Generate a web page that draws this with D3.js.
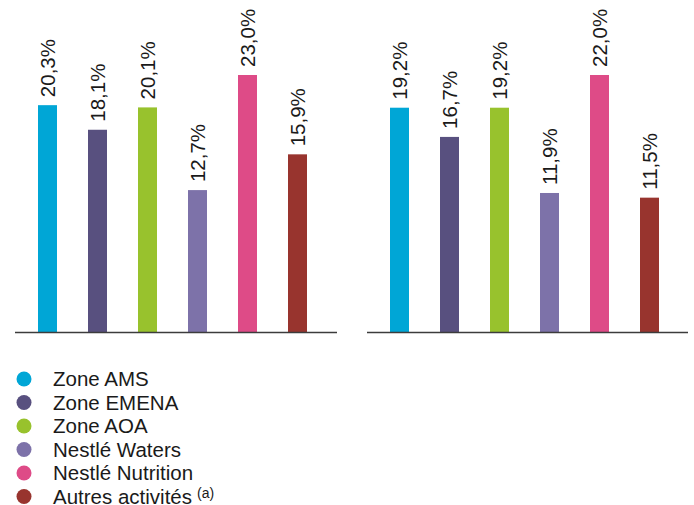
<!DOCTYPE html>
<html>
<head>
  <meta charset="UTF-8">
  <script src="https://d3js.org/d3.v7.min.js"></script>
  <style>
    body { margin: 0; background: #fff; }
    svg { font-family: "Liberation Sans", Arial, sans-serif; }
  </style>
</head>
<body>
  <svg width="694" height="505"></svg>
  <script>
    // Data
    const categories = ['Zone AMS', 'Zone EMENA', 'Zone AOA', 'Nestlé Waters', 'Nestlé Nutrition', 'Autres activités'];
    const colors = ['#00a6d6', '#58507f', '#98c22d', '#7d72a9', '#de4b87', '#98342e'];
    const leftValues = [20.3, 18.1, 20.1, 12.7, 23.0, 15.9];
    const rightValues = [19.2, 16.7, 19.2, 11.9, 22.0, 11.5];

    const svg = d3.select('svg');
    const baseline = 332;
    const barHeight = 257;
    const fmt = v => v.toFixed(1).replace('.', ',') + '%';

    // Draw one panel of bars
    function drawPanel(values, x0, x1, firstBar) {
      const g = svg.append('g');

      const xScale = d3.scaleBand()
        .domain(categories)
        .range([firstBar - 15.5, firstBar - 15.5 + 50 * categories.length])
        .paddingInner(0.62)
        .paddingOuter(0.31);

      const yScale = d3.scaleLinear()
        .domain([0, d3.max(values)])
        .range([baseline, baseline - barHeight]);

      const data = categories.map((c, i) => ({ cat: c, value: values[i], color: colors[i] }));

      g.selectAll('rect')
        .data(data)
        .enter()
        .append('rect')
          .attr('x', d => xScale(d.cat))
          .attr('width', xScale.bandwidth())
          .attr('y', d => yScale(d.value))
          .attr('height', d => baseline - yScale(d.value))
          .attr('fill', d => d.color);

      // Value labels, rotated
      g.selectAll('text.val')
        .data(data)
        .enter()
        .append('text')
          .attr('class', 'val')
          .attr('transform', d => `translate(${xScale(d.cat) + xScale.bandwidth() / 2 + 0.5}, ${yScale(d.value) - 8}) rotate(-90)`)
          .attr('dy', '0.36em')
          .attr('font-size', '20.5px')
          .attr('fill', '#1a1a1a')
          .text(d => fmt(d.value));

      // Baseline
      g.append('line')
        .attr('x1', x0)
        .attr('x2', x1)
        .attr('y1', baseline + 0.5)
        .attr('y2', baseline + 0.5)
        .attr('stroke', '#3c3c3c')
        .attr('stroke-width', 1.6);
    }

    drawPanel(leftValues, 15, 337, 38);
    drawPanel(rightValues, 367, 688, 390);

    // Legend
    const legend = svg.append('g');
    const rows = legend.selectAll('g')
      .data(categories)
      .enter()
      .append('g')
        .attr('transform', (d, i) => `translate(0, ${379 + i * 23.5})`);

    rows.append('circle')
      .attr('cx', 24)
      .attr('cy', 0)
      .attr('r', 7.5)
      .attr('fill', (d, i) => colors[i]);

    const labels = rows.append('text')
      .attr('x', 53)
      .attr('dy', '0.36em')
      .attr('font-size', '20.5px')
      .attr('fill', '#1a1a1a')
      .text(d => d);

    labels.filter((d, i) => i === categories.length - 1)
      .append('tspan')
      .attr('dx', 5)
      .attr('dy', '-0.45em')
      .attr('font-size', '14px')
      .text('(a)');
  </script>
</body>
</html>
